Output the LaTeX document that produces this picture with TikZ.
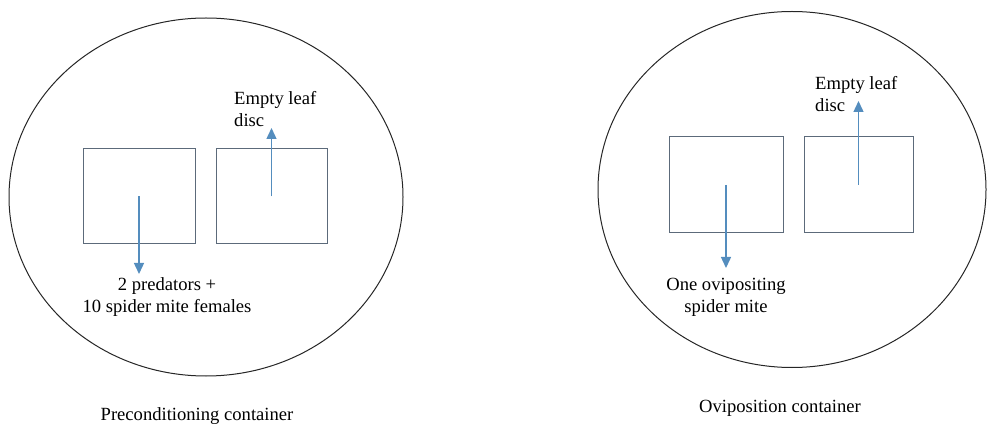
\documentclass[tikz,border=0pt]{standalone}
\usepackage{fontspec}
\setmainfont{Liberation Serif}
\definecolor{discgray}{RGB}{92, 106, 122}
\definecolor{arrowblue}{RGB}{84, 141, 190}
\usepackage{tikz}
\usetikzlibrary{shapes, arrows.meta, positioning, calc}

\begin{document}
\begin{tikzpicture}[x=1pt, y=-1pt, font=\rmfamily\fontsize{18.6}{22}\selectfont,
    container/.style={draw=black!85, line width=1pt, ellipse, inner sep=0pt},
    leafdisc/.style={draw=discgray, line width=1pt, rectangle, inner sep=0pt},
    mitearrow/.style={draw=arrowblue, line width=1.4pt, -{Triangle[width=10pt, length=11pt]}}]
  \useasboundingbox (0,0) rectangle (987,427);

  % preconditioning container
  \node[container, minimum width=394pt, minimum height=358pt] (pre) at (206,197) {};
  \node[leafdisc, minimum width=112pt, minimum height=95pt] (pre disc a) at (139,196.5) {};
  \node[leafdisc, minimum width=111pt, minimum height=95pt] (pre disc b) at (271.5,196.5) {};
  \coordinate (pre tip a) at (139,274);
  \coordinate (pre tip b) at (271.5,128);
  \draw[mitearrow] (pre disc a.center) -- (pre tip a);
  \draw[mitearrow] (pre disc b.center) -- (pre tip b);
  \node[anchor=west, align=left, inner sep=0pt] (pre empty) at (234,109) {Empty leaf\\disc};
  \node[align=center, inner sep=0pt] (pre mites) at (167,297.5) {2 predators +\\10 spider mite females};
  \node[inner sep=0pt] (pre label) at (197,416) {Preconditioning container};

  % oviposition container
  \node[container, minimum width=388pt, minimum height=356pt] (ovi) at (792,189.5) {};
  \node[leafdisc, minimum width=114pt, minimum height=96pt] (ovi disc a) at (726,185) {};
  \node[leafdisc, minimum width=109pt, minimum height=96pt] (ovi disc b) at (858.5,185) {};
  \coordinate (ovi tip a) at (726,268);
  \coordinate (ovi tip b) at (858.5,101);
  \draw[mitearrow] (ovi disc a.center) -- (ovi tip a);
  \draw[mitearrow] (ovi disc b.center) -- (ovi tip b);
  \node[anchor=west, align=left, inner sep=0pt] (ovi empty) at (815,94) {Empty leaf\\disc};
  \node[align=center, inner sep=0pt] (ovi mite) at (726,297.5) {One ovipositing\\spider mite};
  \node[inner sep=0pt] (ovi label) at (780,408) {Oviposition container};
\end{tikzpicture}
\end{document}
